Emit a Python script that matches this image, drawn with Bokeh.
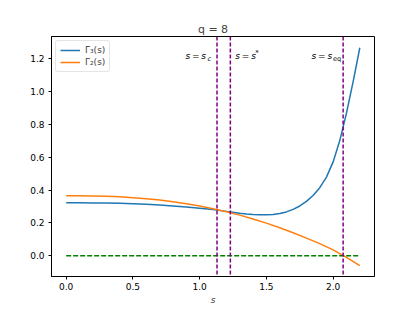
from bokeh.plotting import figure
from bokeh.models import Range1d, Legend, LegendItem, FixedTicker, Span
from bokeh.embed import file_html
from bokeh.resources import INLINE
from bokeh.core.properties import value

# ---- data ----
s_blue = [0.0, 0.1, 0.2, 0.3, 0.4, 0.5, 0.6, 0.7, 0.8, 0.9, 1.0, 1.1, 1.2, 1.25, 1.3,
          1.35, 1.4, 1.45, 1.5, 1.55, 1.6, 1.65, 1.7, 1.75, 1.8, 1.85, 1.9, 1.95, 2.0,
          2.05, 2.1, 2.15, 2.2]
gamma3_bar = [0.323, 0.3228, 0.3222, 0.3212, 0.3195, 0.3170, 0.3135, 0.3090, 0.3035,
              0.2970, 0.2900, 0.2815, 0.2705, 0.2645, 0.2590, 0.2545, 0.2515, 0.2500,
              0.2500, 0.2518, 0.2573, 0.2673, 0.2825, 0.3035, 0.3313, 0.3675, 0.4150,
              0.4795, 0.5720, 0.7020, 0.8695, 1.0620, 1.2680]

s_orange = [0.0, 0.1, 0.2, 0.3, 0.4, 0.5, 0.6, 0.7, 0.8, 0.9, 1.0, 1.1, 1.2, 1.3, 1.4,
            1.5, 1.6, 1.7, 1.8, 1.9, 2.0, 2.1, 2.2]
gamma2 = [0.366, 0.3657, 0.3647, 0.3625, 0.3590, 0.3540, 0.3475, 0.3392, 0.3291,
          0.3170, 0.3029, 0.2867, 0.2683, 0.2476, 0.2245, 0.1990, 0.1711, 0.1405,
          0.1074, 0.0740, 0.0360, -0.0100, -0.0600]

zero_s = [0.0, 2.2]
zero_y = [0.0, 0.0]

s_c = 1.13
s_star = 1.23
s_eq = 2.075

x_ticks = [0.0, 0.5, 1.0, 1.5, 2.0]
y_ticks = [0.0, 0.2, 0.4, 0.6, 0.8, 1.0, 1.2]

FONT = "DejaVu Sans"

p = figure(width=407, height=307, output_backend="svg", toolbar_location=None,
           x_range=Range1d(-0.11, 2.31), y_range=Range1d(-0.1265, 1.3365),
           min_border_left=51, min_border_right=33, min_border_top=36, min_border_bottom=28)

p.title.text = "q = 8"
p.title.align = "center"
p.title.text_font = FONT
p.title.text_font_size = "11px"
p.title.text_font_style = "normal"
p.title.standoff = 2

p.xgrid.visible = False
p.ygrid.visible = False
p.outline_line_color = "black"
p.outline_line_width = 1
p.background_fill_color = "white"
p.border_fill_color = "white"

for ax in (p.xaxis[0], p.yaxis[0]):
    ax.axis_line_color = "black"
    ax.major_tick_line_color = "black"
    ax.minor_tick_line_color = None
    ax.major_tick_in = 0
    ax.major_tick_out = 3
    ax.major_label_text_font = FONT
    ax.major_label_text_font_size = "9px"
    ax.major_label_text_color = "black"
    ax.axis_label_text_font = FONT
    ax.axis_label_text_font_size = "9px"
    ax.axis_label_text_font_style = "italic"

p.xaxis.ticker = FixedTicker(ticks=x_ticks)
p.yaxis.ticker = FixedTicker(ticks=y_ticks)
p.xaxis.major_label_overrides = {t: f"{t:.1f}" for t in x_ticks}
p.yaxis.major_label_overrides = {t: f"{t:.1f}" for t in y_ticks}
p.xaxis.major_label_standoff = 3
p.yaxis.major_label_standoff = 4
p.xaxis.axis_label = "s"
p.xaxis.axis_label_standoff = 2

# curves
r3 = p.line(s_blue, gamma3_bar, line_color="#1f77b4", line_width=1.5)
r2 = p.line(s_orange, gamma2, line_color="#ff7f0e", line_width=1.5)
p.line(zero_s, zero_y, line_color="green", line_width=1.5, line_dash="5 2")

for loc in (s_c, s_star, s_eq):
    p.add_layout(Span(location=loc, dimension="height", line_color="purple",
                      line_width=1.5, line_dash="4 2"))

# annotations near the top
ylab = 1.215
p.text(x=[s_c], y=[ylab], text=["s\u2009=\u2009s"], text_align="right", text_baseline="middle",
       x_offset=-11, text_font=value(FONT), text_font_style="italic", text_font_size="9px",
       text_color="black")
p.text(x=[s_c], y=[ylab], text=["c"], text_align="right", text_baseline="middle",
       x_offset=-6, y_offset=3, text_font=value(FONT), text_font_style="italic",
       text_font_size="6.5px", text_color="black")

p.text(x=[s_star], y=[ylab], text=["s\u2009=\u2009s"], text_align="left", text_baseline="middle",
       x_offset=5, text_font=value(FONT), text_font_style="italic", text_font_size="9px",
       text_color="black")
p.text(x=[s_star], y=[ylab], text=["*"], text_align="left", text_baseline="middle",
       x_offset=25, y_offset=-3, text_font=value(FONT), text_font_size="7px",
       text_color="black")

p.text(x=[s_eq], y=[ylab], text=["s\u2009=\u2009s"], text_align="right", text_baseline="middle",
       x_offset=-11, text_font=value(FONT), text_font_style="italic", text_font_size="9px",
       text_color="black")
p.text(x=[s_eq], y=[ylab], text=["eq"], text_align="right", text_baseline="middle",
       x_offset=-2, y_offset=3, text_font=value(FONT), text_font_size="6.5px",
       text_color="black")

legend = Legend(items=[LegendItem(label="\u0393\u0304\u2083(s)", renderers=[r3]),
                       LegendItem(label="\u0393\u2082(s)", renderers=[r2])],
                location="top_left")
legend.label_text_font = FONT
legend.label_text_font_size = "9px"
legend.glyph_width = 20
legend.glyph_height = 10
legend.label_height = 10
legend.spacing = 2
legend.padding = 4
legend.margin = 4
legend.label_standoff = 5
legend.border_line_color = "#cccccc"
legend.border_line_width = 1
legend.border_radius = 3
legend.background_fill_alpha = 0.8
p.add_layout(legend)

open("out.html", "w").write(file_html(p, INLINE))
